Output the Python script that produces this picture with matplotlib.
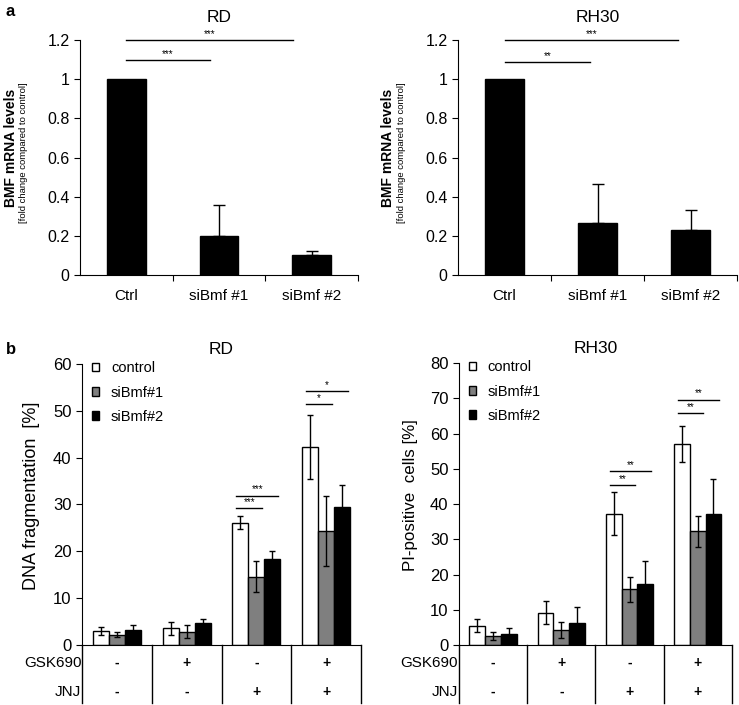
"""Bmf knockdown: mRNA levels and apoptosis readouts for RD and RH30 cells."""

import numpy as np
import matplotlib.pyplot as plt

plt.rcParams["font.family"] = ["Liberation Sans", "DejaVu Sans"]

# panel a: BMF mRNA levels
mrna_labels = ["Ctrl", "siBmf #1", "siBmf #2"]
rd_mrna = [1.0, 0.20, 0.10]
rd_mrna_err = [0.0, 0.16, 0.025]
rh30_mrna = [1.0, 0.265, 0.23]
rh30_mrna_err = [0.0, 0.20, 0.10]

# panel b: apoptosis per treatment group
series = ["control", "siBmf#1", "siBmf#2"]
gsk690 = ["-", "+", "-", "+"]
jnj = ["-", "-", "+", "+"]
rd_dna = {
    "control": [3.0, 3.6, 26.1, 42.3],
    "siBmf#1": [2.2, 2.8, 14.6, 24.4],
    "siBmf#2": [3.3, 4.7, 18.4, 29.4],
}
rd_dna_err = {
    "control": [0.9, 1.4, 1.4, 6.8],
    "siBmf#1": [0.5, 1.4, 3.3, 7.5],
    "siBmf#2": [0.9, 0.9, 1.7, 4.7],
}
rh30_pi = {
    "control": [5.5, 9.2, 37.2, 57.0],
    "siBmf#1": [2.5, 4.3, 15.8, 32.2],
    "siBmf#2": [3.2, 6.3, 17.2, 37.2],
}
rh30_pi_err = {
    "control": [1.9, 3.2, 6.1, 5.2],
    "siBmf#1": [1.2, 2.2, 3.5, 4.3],
    "siBmf#2": [1.5, 4.4, 6.6, 9.8],
}
colors = {"control": "white", "siBmf#1": "#7f7f7f", "siBmf#2": "black"}

# significance brackets
rd_mrna_sig = [(0.0, 0.9, 1.1, "***"), (0.0, 1.8, 1.2, "***")]
rh30_mrna_sig = [(0.0, 0.92, 1.09, "**"), (0.0, 1.87, 1.2, "***")]
rd_dna_sig = [(2, 1, 29.2, "***"), (2, 2, 31.9, "***"), (3, 1, 51.5, "*"), (3, 2, 54.2, "*")]
rh30_pi_sig = [(2, 1, 45.3, "**"), (2, 2, 49.3, "**"), (3, 1, 65.8, "**"), (3, 2, 69.6, "**")]


def style(ax, size):
    ax.spines["top"].set_visible(False)
    ax.spines["right"].set_visible(False)
    ax.tick_params(axis="y", direction="out", length=4, labelsize=size)


def mrna_panel(ax, values, errs, sig, title):
    x = np.arange(len(mrna_labels))
    ax.bar(x, values, width=0.42, color="black", edgecolor="black")
    ax.errorbar(x[1:], values[1:], yerr=[[0] * (len(x) - 1), errs[1:]], fmt="none",
                ecolor="black", elinewidth=1, capsize=4.5, capthick=1)
    ax.set_xlim(-0.5, 2.5)
    ax.set_ylim(0, 1.2)
    ax.set_yticks([0, 0.2, 0.4, 0.6, 0.8, 1.0, 1.2])
    ax.set_yticklabels(["0", "0.2", "0.4", "0.6", "0.8", "1", "1.2"])
    ax.set_xticks([0.5, 1.5, 2.5])
    ax.set_xticklabels([])
    ax.tick_params(axis="x", direction="out", length=4)
    for xi, lab in zip(x, mrna_labels):
        ax.text(xi, -0.09, lab, ha="center", va="center", fontsize=11,
                transform=ax.get_xaxis_transform())
    for x0, x1, y, lab in sig:
        ax.plot([x0, x1], [y, y], color="black", lw=1, clip_on=False)
        ax.text((x0 + x1) / 2, y + 0.005, lab, ha="center", va="bottom", fontsize=7)
    style(ax, 11.5)
    ax.set_title(title, fontsize=12.5, pad=13)
    ax.text(-0.25, 0.54, "BMF mRNA levels", rotation=90, ha="center", va="center",
            fontsize=10, fontweight="bold", transform=ax.transAxes)
    ax.text(-0.203, 0.52, "[fold change compared to control]", rotation=90, ha="center",
            va="center", fontsize=6.8, transform=ax.transAxes)


def apoptosis_panel(ax, data, errs, sig, ymax, ylabel, ylabel_size, title):
    groups = np.arange(len(gsk690))
    w = 0.23
    for i, name in enumerate(series):
        xs = groups + (i - 1) * w
        ax.bar(xs, data[name], width=w, color=colors[name], edgecolor="black",
               linewidth=1, label=name)
        ax.errorbar(xs, data[name], yerr=errs[name], fmt="none", ecolor="black",
                    elinewidth=1, capsize=2.5, capthick=1)
    for g, k, y, lab in sig:
        x0 = g - w - 0.25 * w
        x1 = g + (k - 1) * w + 0.35 * w
        ax.plot([x0, x1], [y, y], color="black", lw=1)
        ax.text((x0 + x1) / 2, y + 0.004 * ymax, lab, ha="center", va="bottom", fontsize=7)
    ax.set_xlim(-0.5, 3.5)
    ax.set_ylim(0, ymax)
    ax.set_yticks(np.arange(0, ymax + 1, 10))
    ax.set_xticks([])
    style(ax, 12)
    ax.set_ylabel(ylabel, fontsize=ylabel_size)
    ax.yaxis.set_label_coords(-0.15, 0.53)
    ax.set_title(title, fontsize=12.5, pad=7)

    # treatment table under the axis
    tr = ax.get_xaxis_transform()
    for b in np.arange(-0.5, 4.0, 1.0):
        ax.plot([b, b], [0, -0.206], color="black", lw=1, transform=tr, clip_on=False)
    for g in groups:
        ax.text(g, -0.064, gsk690[g], ha="center", va="center", fontsize=10,
                fontweight="bold", transform=tr)
        ax.text(g, -0.167, jnj[g], ha="center", va="center", fontsize=10,
                fontweight="bold", transform=tr)
    ax.text(-0.51, -0.064, "GSK690", ha="right", va="center", fontsize=11, transform=tr)
    ax.text(-0.51, -0.167, "JNJ", ha="right", va="center", fontsize=11, transform=tr)

    ax.legend(loc="upper left", frameon=False, fontsize=10.5, handlelength=0.5,
              handleheight=0.5, handletextpad=0.8, labelspacing=0.7,
              borderaxespad=0.0, bbox_to_anchor=(0.015, 1.03))


fig = plt.figure(figsize=(7.39, 7.05), dpi=100)

ax1 = fig.add_axes([0.1083, 0.6099, 0.376, 0.3333])
mrna_panel(ax1, rd_mrna, rd_mrna_err, rd_mrna_sig, "RD")

ax2 = fig.add_axes([0.6198, 0.6099, 0.3775, 0.3333])
mrna_panel(ax2, rh30_mrna, rh30_mrna_err, rh30_mrna_sig, "RH30")

ax3 = fig.add_axes([0.111, 0.0851, 0.3775, 0.3986])
apoptosis_panel(ax3, rd_dna, rd_dna_err, rd_dna_sig, 60, "DNA fragmentation  [%]", 13, "RD")

ax4 = fig.add_axes([0.621, 0.0851, 0.3694, 0.40])
apoptosis_panel(ax4, rh30_pi, rh30_pi_err, rh30_pi_sig, 80, "PI-positive  cells [%]", 12.2, "RH30")

fig.text(0.008, 0.995, "a", fontsize=12, fontweight="bold", va="top")
fig.text(0.008, 0.515, "b", fontsize=12, fontweight="bold", va="top")

fig.savefig("out.png", dpi=100)
